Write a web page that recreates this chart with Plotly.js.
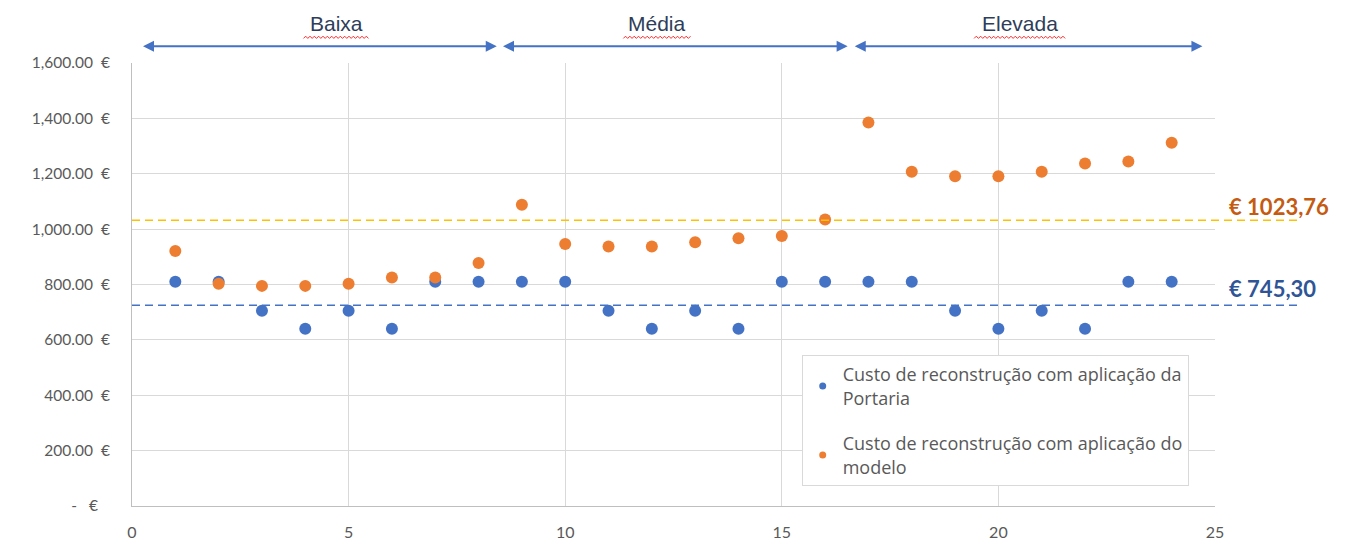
<!DOCTYPE html>
<html>
<head>
<meta charset="utf-8">
<script src="https://cdn.plot.ly/plotly-3.0.1.min.js"></script>
<style>html,body{margin:0;padding:0;background:#fff;}#chart{width:1346px;height:545px;}</style>
</head>
<body>
<div id="chart"></div>
<script>
const xValues = [1,2,3,4,5,6,7,8,9,10,11,12,13,14,15,16,17,18,19,20,21,22,23,24];
const portaria = [810,810,705,640,705,640,810,810,810,810,705,640,705,640,810,810,810,810,705,640,705,640,810,810];
const modelo = [921,803,795,795,803,825,825,878,1088,946,937,937,953,967,975,1035,1385,1207,1191,1191,1207,1237,1244,1312];
const seriesNames = ['Custo de reconstrução com aplicação da<br>Portaria', 'Custo de reconstrução com aplicação do<br>modelo'];
const meanLines = [725, 1032];
const meanLabels = ['€ 745,30', '€ 1023,76'];
const yTickVals = [0,200,400,600,800,1000,1200,1400,1600];
const yTickText = ['-   €   ','200.00  €','400.00  €','600.00  €','800.00  €','1,000.00  €','1,200.00  €','1,400.00  €','1,600.00  €'];
const xTickVals = [0,5,10,15,20,25];
const groups = ['Baixa','Média','Elevada'];
const groupStart = [0.22, 8.53, 16.65];
const groupEnd = [8.42, 16.52, 24.71];
const groupLabelX = [4.72, 12.13, 20.49];
const groupLabelWidth = [1.45, 1.5, 2.0];

const blue = '#4472C4', orange = '#ED7D31';
const font = 'Lato, "Open Sans", sans-serif';
const legendFont = '"Open Sans", Lato, sans-serif';

const traces = [
  {x: xValues, y: portaria, type: 'scatter', mode: 'markers', marker: {color: blue, size: 12}, showlegend: false, hoverinfo: 'x+y'},
  {x: xValues, y: modelo, type: 'scatter', mode: 'markers', marker: {color: orange, size: 12}, showlegend: false, hoverinfo: 'x+y'},
  {x: [null], y: [null], type: 'scatter', mode: 'markers', marker: {color: blue, size: 7}, name: seriesNames[0], legendgroup: 'a'},
  {x: [null], y: [null], type: 'scatter', mode: 'markers', marker: {color: orange, size: 7}, name: seriesNames[1], legendgroup: 'b'}
];

const shapes = [
  {type: 'line', xref: 'paper', yref: 'y', x0: 0, x1: 1.078, y0: meanLines[0], y1: meanLines[0], line: {color: blue, width: 1.5, dash: '8px,5px'}},
  {type: 'line', xref: 'paper', yref: 'y', x0: 0, x1: 1.078, y0: meanLines[1], y1: meanLines[1], line: {color: '#FFC000', width: 1.5, dash: '8px,5px'}}
];

// red spell-check wavy underline under the group labels (decoration)
for (let i = 0; i < groups.length; i++) {
  const x0 = groupLabelX[i] - groupLabelWidth[i] / 2 * 1.05, x1 = groupLabelX[i] + groupLabelWidth[i] / 2 * 1.05;
  const step = 0.05;
  let p = '';
  let k = 0;
  for (let x = x0; x <= x1 + 1e-9; x += step, k++) {
    const y = (k % 2 === 0) ? 1.0555 : 1.0605;
    p += (k === 0 ? 'M' : 'L') + x.toFixed(3) + ',' + y.toFixed(4) + ' ';
  }
  shapes.push({type: 'path', xref: 'x', yref: 'paper', path: p, line: {color: '#FF2A2A', width: 1}});
}

const annotations = [
  {xref: 'paper', yref: 'paper', x: 1.0115, y: (505.7 - 206) / 442.7, xanchor: 'left', yanchor: 'middle', showarrow: false, text: '<b>' + meanLabels[1] + '</b>', font: {family: font, size: 22, color: '#C55A11'}},
  {xref: 'paper', yref: 'paper', x: 1.0115, y: (505.7 - 288) / 442.7, xanchor: 'left', yanchor: 'middle', showarrow: false, text: '<b>' + meanLabels[0] + '</b>', font: {family: font, size: 22, color: '#2F5597'}}
];
for (let i = 0; i < groups.length; i++) {
  annotations.push({xref: 'x', yref: 'paper', axref: 'x', ayref: 'paper', x: groupEnd[i], y: 1.038, ax: groupStart[i], ay: 1.038,
    showarrow: true, arrowside: 'end+start', arrowhead: 2, arrowsize: 1.1, arrowwidth: 2, arrowcolor: blue, text: ''});
  annotations.push({xref: 'x', yref: 'paper', x: groupLabelX[i], y: (505.7 - 24) / 442.7, showarrow: false, xanchor: 'center', yanchor: 'middle',
    text: groups[i], font: {family: '"Liberation Sans", Arial, sans-serif', size: 21, color: '#2E3D5A'}});
}

const layout = {
  width: 1346, height: 545,
  margin: {l: 132, r: 131, t: 63, b: 39},
  paper_bgcolor: '#fff', plot_bgcolor: '#fff',
  font: {family: font, size: 15, color: '#595959'},
  xaxis: {range: [0, 25], tickvals: xTickVals, showgrid: true, gridcolor: '#D9D9D9', gridwidth: 1, zeroline: false,
    showline: true, linecolor: '#BFBFBF', linewidth: 1, ticks: '', ticklabelstandoff: 12, tickfont: {family: font, size: 16, color: '#595959'}},
  yaxis: {range: [0, 1600], tickvals: yTickVals, ticktext: yTickText, showgrid: true, gridcolor: '#D9D9D9', gridwidth: 1, zeroline: false,
    showline: true, linecolor: '#BFBFBF', linewidth: 1, ticks: '', ticklabelstandoff: 18, tickfont: {family: font, size: 15.5, color: '#595959'}},
  showlegend: true,
  legend: {x: (802 - 132.3) / 1083, y: (505.7 - 355) / 442.7, xanchor: 'left', yanchor: 'top', bgcolor: '#fff', bordercolor: '#D9D9D9', borderwidth: 1,
    font: {family: legendFont, size: 18, color: '#595959'}, tracegroupgap: 19, itemwidth: 30},
  shapes: shapes,
  annotations: annotations
};

Plotly.newPlot('chart', traces, layout, {displayModeBar: false, staticPlot: true});
</script>
</body>
</html>
